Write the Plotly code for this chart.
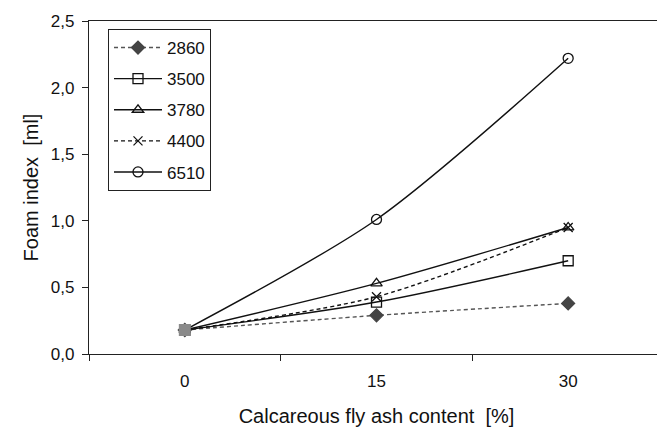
import plotly.graph_objects as go

categories = ["0", "15", "30"]
series_names = ["2860", "3500", "3780", "4400", "6510"]
v2860 = [0.18, 0.29, 0.38]
v3500 = [0.18, 0.39, 0.70]
v3780 = [0.18, 0.53, 0.95]
v4400 = [0.18, 0.43, 0.95]
v6510 = [0.18, 1.01, 2.22]
y_ticks = [0.0, 0.5, 1.0, 1.5, 2.0, 2.5]

series_values = [v2860, v3500, v3780, v4400, v6510]
styles = [
    dict(symbol="diamond", dash="4px,3px", color="#444444", lcolor="#555555"),
    dict(symbol="square-open", dash="solid", color="#111111", lcolor="#111111"),
    dict(symbol="triangle-up-open", dash="solid", color="#111111", lcolor="#111111"),
    dict(symbol="x-thin-open", dash="4px,3px", color="#111111", lcolor="#111111"),
    dict(symbol="circle-open", dash="solid", color="#111111", lcolor="#111111"),
]

fig = go.Figure()
for i, (name, vals, st) in enumerate(zip(series_names, series_values, styles)):
    fig.add_trace(go.Scatter(
        x=categories, y=vals, name=name, mode="lines+markers",
        legendgroup=name,
        line=dict(color=st["lcolor"], width=1.4, dash=st["dash"], shape="spline", smoothing=0.8),
        marker=dict(symbol=st["symbol"], size=10 if "x" not in st["symbol"] else 9,
                    color=st["color"], line=dict(width=1.3, color=st["color"])),
    ))

# shared starting point (all series coincide at 0 %)
fig.add_trace(go.Scatter(
    x=[categories[0]], y=[series_values[0][0]], mode="markers", showlegend=False,
    marker=dict(symbol="square", size=12, color="#8a8a8a", line=dict(width=0)),
    hoverinfo="skip",
))

fig.update_layout(
    width=657, height=424,
    margin=dict(l=81, r=1, t=13, b=78),
    paper_bgcolor="white", plot_bgcolor="white",
    separators=",.",
    font=dict(family="Liberation Sans, Arial, sans-serif", size=17, color="#111111"),
    showlegend=True,
    legend=dict(
        x=(108 - 89) / 575, y=(354 - 29) / 333, xanchor="left", yanchor="top",
        bordercolor="#222222", borderwidth=1, bgcolor="white",
        font=dict(size=17), traceorder="grouped", tracegroupgap=6, itemwidth=48,
    ),
    xaxis=dict(
        type="category", categoryorder="array", categoryarray=categories,
        range=[-0.5, 2.5], showline=True, linecolor="#222222", linewidth=1.3,
        mirror=True, ticks="outside", tickson="boundaries", ticklen=6,
        tickcolor="#222222", showgrid=False, zeroline=False, automargin=False,
        ticklabelstandoff=11,
        title=dict(text="Calcareous fly ash content  [%]", font=dict(size=20), standoff=19),
    ),
    yaxis=dict(
        range=[0, 2.5], tickvals=y_ticks, tickformat=".1f",
        showline=True, linecolor="#222222", linewidth=1.3, mirror=False,
        ticks="outside", ticklen=6, tickcolor="#222222", automargin=False,
        showgrid=False, zeroline=False, ticklabelstandoff=4,
        title=dict(text="Foam index  [ml]", font=dict(size=20), standoff=6),
    ),
)

fig.write_html("out.html")
